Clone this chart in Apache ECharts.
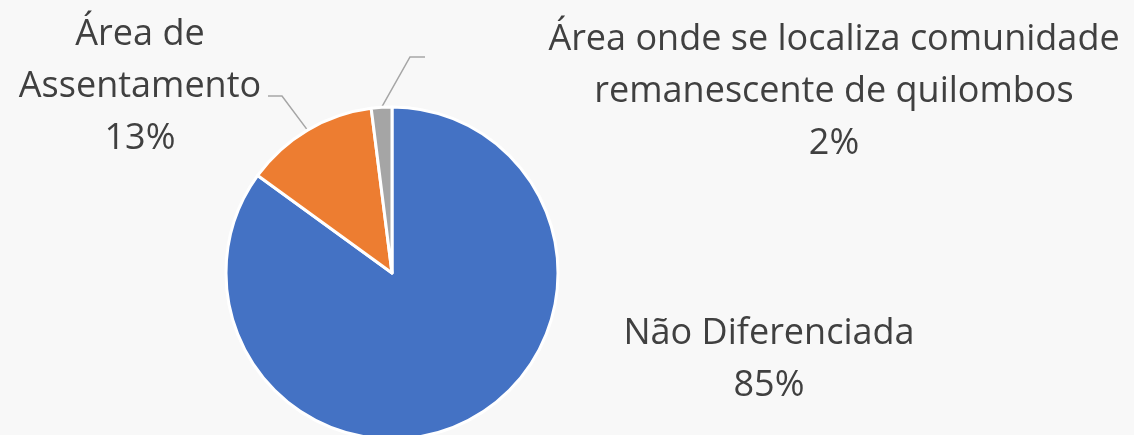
<!DOCTYPE html>
<html>
<head>
<meta charset="utf-8">
<script src="https://cdn.jsdelivr.net/npm/echarts@6/dist/echarts.min.js"></script>
<style>
  html, body { margin: 0; padding: 0; background: #f8f8f8; }
  #main { width: 1134px; height: 435px; }
</style>
</head>
<body>
<div id="main"></div>
<script>
// categorias (com quebras de linha como no gráfico) e valores
const categories = [
  "Não Diferenciada",
  "Área de\nAssentamento",
  "Área onde se localiza comunidade\nremanescente de quilombos"
];
const values = [85, 13, 2];
const colors = ["#4472c4", "#ed7d31", "#a5a5a5"];

// posição dos rótulos (centro do bloco de texto)
const labelPos = [
  { x: 769, y: 360 },
  { x: 140, y: 87 },
  { x: 834, y: 92 }
];

const chart = echarts.init(document.getElementById("main"));

const options = {
  backgroundColor: "#f8f8f8",
  animation: false,
  series: [
    {
      type: "pie",
      center: [392, 273],
      radius: 166,
      startAngle: 90,
      clockwise: true,
      itemStyle: {
        borderColor: "#ffffff",
        borderWidth: 3
      },
      label: {
        show: true,
        fontFamily: "Open Sans",
        fontSize: 36,
        lineHeight: 52,
        color: "#404040",
        align: "center",
        width: 700,
        overflow: "none",
        formatter: (p) => p.name + "\n" + Math.round(p.percent) + "%"
      },
      labelLine: {
        show: true,
        lineStyle: { color: "#a6a6a6", width: 1.5 }
      },
      labelLayout: (params) => {
        const i = params.dataIndex;
        const pos = labelPos[i];
        const out = { x: pos.x, y: pos.y, align: "center", verticalAlign: "middle" };
        const start = params.labelLinePoints ? params.labelLinePoints[0] : null;
        if (start && i === 1) {
          out.labelLinePoints = [start, [282, 96], [268, 96]];
        } else if (start && i === 2) {
          out.labelLinePoints = [start, [410, 57], [425, 57]];
        }
        return out;
      },
      data: categories.map((name, i) => ({
        name,
        value: values[i],
        itemStyle: { color: colors[i] },
        labelLine: { show: i !== 0 }
      }))
    }
  ]
};

chart.setOption(options);
window.addEventListener("resize", () => {
  chart.resize();
});
</script>
</body>
</html>
